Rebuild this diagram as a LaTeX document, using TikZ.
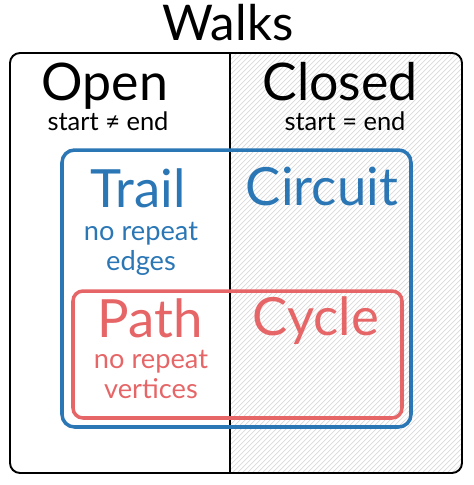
\documentclass[tikz,border=0pt]{standalone}
\usepackage{fontspec}
\setmainfont{Lato}
\definecolor{trailblue}{HTML}{2B77B6}
\definecolor{pathred}{HTML}{E66668}
\tikzset{
    title/.style={font=\fontsize{28}{32}\selectfont, anchor=base},
    side/.style={font=\fontsize{29.5}{34}\selectfont, anchor=base},
    rule/.style={font=\fontsize{14.5}{17}\selectfont, anchor=base},
    kind/.style={font=\fontsize{30}{34}\selectfont, anchor=base},
    note/.style={font=\fontsize{15.5}{17}\selectfont, anchor=base, align=center}
}
\begin{document}
\begin{tikzpicture}[x=0.02cm, y=-0.02cm]
        \useasboundingbox (0,0) rectangle (474,485);
        \begin{scope}
            \clip[rounded corners=0.2cm] (10,53) rectangle (462,473);
            \clip (230,0) rectangle (474,485);
            \foreach \x in {-260,-255,...,474}
                \draw [gray!30, line width=0.4pt] (\x,485) -- ++(485,-485);
        \end{scope}
        \draw [line width=1.1pt, rounded corners=0.2cm] (10,53) rectangle (462,473);
        \draw [line width=1.1pt] (230,53) -- (230,473);
        \draw [trailblue, line width=2pt, rounded corners=0.25cm] (62,150) rectangle (411,427);
        \draw [pathred, line width=2pt, rounded corners=0.2cm] (73,291) rectangle (402,418);
        \node [title] (walks) at (228,40) {Walks};
        \node [side] (open) at (105,100) {Open};
        \node [rule] (openrule) at (108,130) {start ≠ end};
        \node [side] (closed) at (340,100) {Closed};
        \node [rule] (closedrule) at (345,130) {start = end};
        \node [kind, trailblue] (trail) at (138,207) {Trail};
        \node [note, trailblue] (trailnote) at (141,270) {no repeat\\edges};
        \node [kind, trailblue] (circuit) at (322,205) {Circuit};
        \node [kind, pathred] (path) at (150,337) {Path};
        \node [note, pathred] (pathnote) at (151,398) {no repeat\\vertices};
        \node [kind, pathred] (cycle) at (316,335) {Cycle};
    \end{tikzpicture}
\end{document}
